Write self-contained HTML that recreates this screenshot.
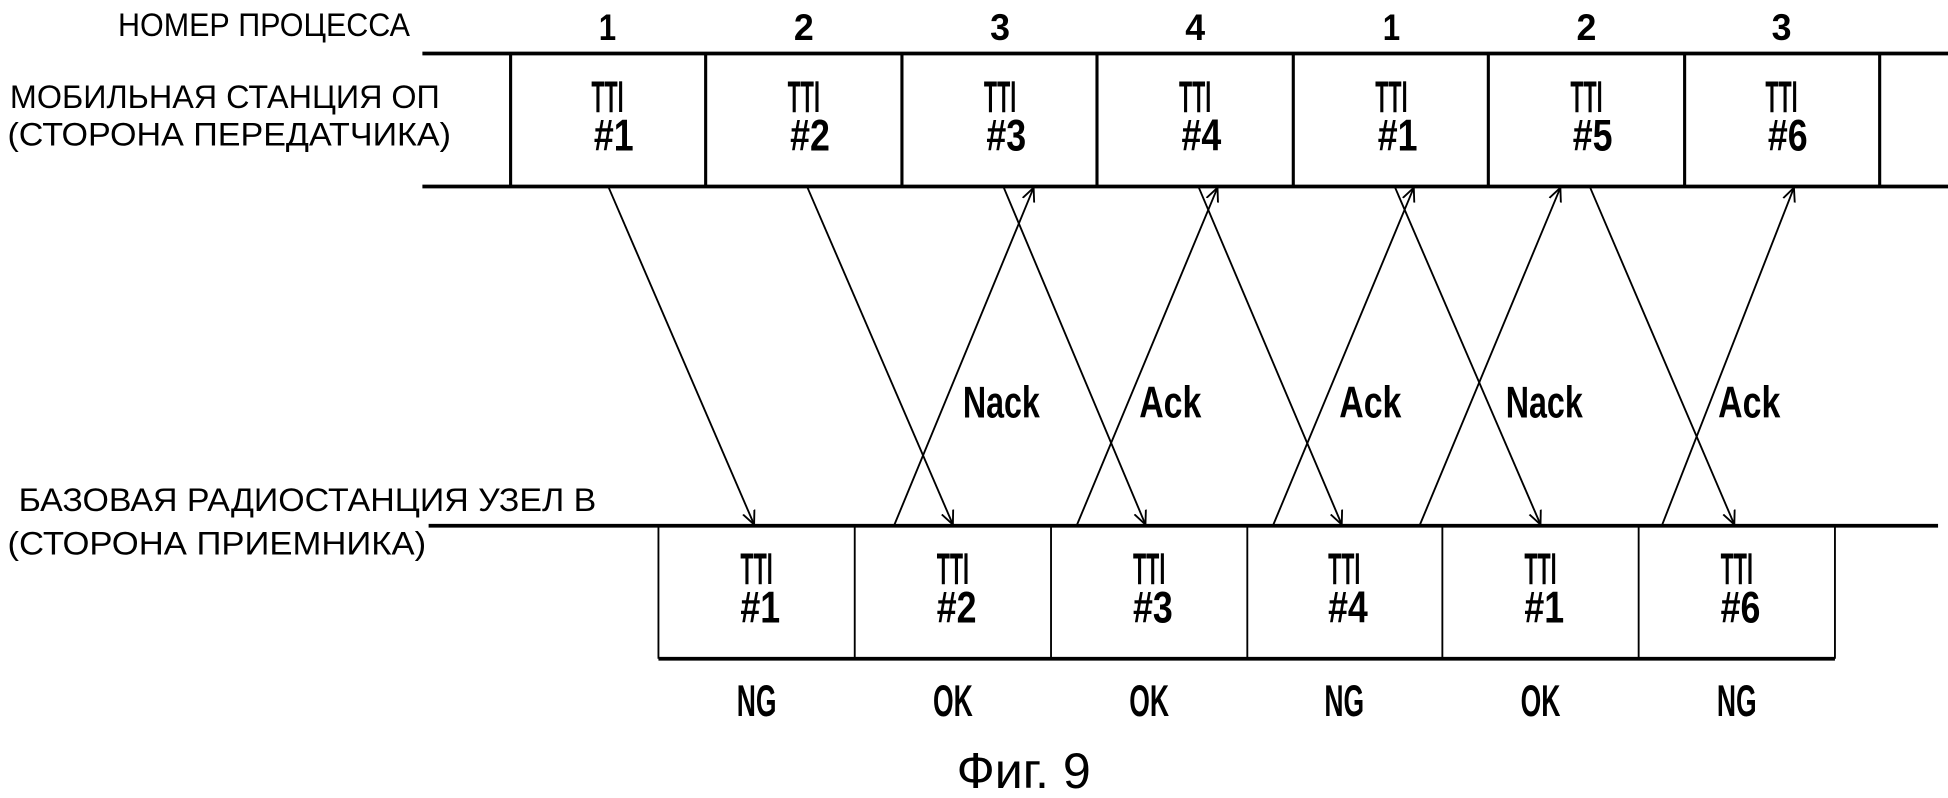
<!DOCTYPE html>
<html><head><meta charset="utf-8"><style>
html,body{margin:0;padding:0;background:#fff;}
svg{display:block;}
text{font-family:"Liberation Sans",sans-serif;fill:#000;}
.b{font-weight:bold;}
</style></head><body>
<svg width="1948" height="798" viewBox="0 0 1568 642" preserveAspectRatio="none" xmlns="http://www.w3.org/2000/svg">
<defs>
<marker id="ah" viewBox="0 0 12 12" refX="11" refY="6" markerWidth="12" markerHeight="12" markerUnits="userSpaceOnUse" orient="auto">
<path d="M0,1 L11,6 L0,11" fill="none" stroke="#000" stroke-width="1.5"/>
</marker>
</defs>
<g stroke="#000" fill="none">
<line x1="340" y1="43" x2="1568" y2="43" stroke-width="3"/>
<line x1="340" y1="150" x2="1568" y2="150" stroke-width="3"/>
<g stroke-width="2.5">
<line x1="411" y1="43" x2="411" y2="150"/><line x1="568" y1="43" x2="568" y2="150"/>
<line x1="726" y1="43" x2="726" y2="150"/><line x1="883" y1="43" x2="883" y2="150"/>
<line x1="1041" y1="43" x2="1041" y2="150"/><line x1="1198" y1="43" x2="1198" y2="150"/>
<line x1="1356" y1="43" x2="1356" y2="150"/><line x1="1513" y1="43" x2="1513" y2="150"/>
</g>
<line x1="345" y1="423" x2="1560" y2="423" stroke-width="3"/>
<line x1="530" y1="530" x2="1477" y2="530" stroke-width="3"/>
<g stroke-width="1.5">
<line x1="530" y1="423" x2="530" y2="530"/><line x1="688" y1="423" x2="688" y2="530"/>
<line x1="846" y1="423" x2="846" y2="530"/><line x1="1004" y1="423" x2="1004" y2="530"/>
<line x1="1161" y1="423" x2="1161" y2="530"/><line x1="1319" y1="423" x2="1319" y2="530"/>
<line x1="1477" y1="423" x2="1477" y2="530"/>
</g>
<g stroke-width="1.5" marker-end="url(#ah)">
<line x1="490" y1="151" x2="607" y2="422"/>
<line x1="650" y1="151" x2="767" y2="422"/>
<line x1="808" y1="151" x2="922" y2="422"/>
<line x1="965" y1="151" x2="1080" y2="422"/>
<line x1="1123" y1="151" x2="1240" y2="422"/>
<line x1="1280" y1="151" x2="1396" y2="422"/>
<line x1="720" y1="422" x2="832" y2="151"/>
<line x1="867" y1="422" x2="980" y2="151"/>
<line x1="1025" y1="422" x2="1138" y2="151"/>
<line x1="1143" y1="422" x2="1256" y2="151"/>
<line x1="1338" y1="422" x2="1444" y2="151"/>
</g>
</g>
<g font-size="26">
<text x="95" y="29" textLength="235" lengthAdjust="spacingAndGlyphs">НОМЕР ПРОЦЕССА</text>
<text x="8" y="87" textLength="346" lengthAdjust="spacingAndGlyphs">МОБИЛЬНАЯ СТАНЦИЯ ОП</text>
<text x="6" y="117" textLength="357" lengthAdjust="spacingAndGlyphs">(СТОРОНА ПЕРЕДАТЧИКА)</text>
<text x="15" y="411" textLength="465" lengthAdjust="spacingAndGlyphs">БАЗОВАЯ РАДИОСТАНЦИЯ УЗЕЛ В</text>
<text x="6" y="446" textLength="337" lengthAdjust="spacingAndGlyphs">(СТОРОНА ПРИЕМНИКА)</text>
</g>
<g class="b" font-size="30" text-anchor="middle">
<text x="489" y="32" textLength="14" lengthAdjust="spacingAndGlyphs">1</text><text x="647" y="32" textLength="16" lengthAdjust="spacingAndGlyphs">2</text><text x="805" y="32" textLength="16" lengthAdjust="spacingAndGlyphs">3</text><text x="962" y="32" textLength="16" lengthAdjust="spacingAndGlyphs">4</text>
<text x="1120" y="32" textLength="14" lengthAdjust="spacingAndGlyphs">1</text><text x="1277" y="32" textLength="16" lengthAdjust="spacingAndGlyphs">2</text><text x="1434" y="32" textLength="16" lengthAdjust="spacingAndGlyphs">3</text>
</g>
<g class="b" font-size="36">
<g text-anchor="middle">
<text x="489" y="90" textLength="26" lengthAdjust="spacingAndGlyphs">TTI</text><text x="494" y="121" textLength="32" lengthAdjust="spacingAndGlyphs">#1</text>
<text x="647" y="90" textLength="26" lengthAdjust="spacingAndGlyphs">TTI</text><text x="652" y="121" textLength="32" lengthAdjust="spacingAndGlyphs">#2</text>
<text x="805" y="90" textLength="26" lengthAdjust="spacingAndGlyphs">TTI</text><text x="810" y="121" textLength="32" lengthAdjust="spacingAndGlyphs">#3</text>
<text x="962" y="90" textLength="26" lengthAdjust="spacingAndGlyphs">TTI</text><text x="967" y="121" textLength="32" lengthAdjust="spacingAndGlyphs">#4</text>
<text x="1120" y="90" textLength="26" lengthAdjust="spacingAndGlyphs">TTI</text><text x="1125" y="121" textLength="32" lengthAdjust="spacingAndGlyphs">#1</text>
<text x="1277" y="90" textLength="26" lengthAdjust="spacingAndGlyphs">TTI</text><text x="1282" y="121" textLength="32" lengthAdjust="spacingAndGlyphs">#5</text>
<text x="1434" y="90" textLength="26" lengthAdjust="spacingAndGlyphs">TTI</text><text x="1439" y="121" textLength="32" lengthAdjust="spacingAndGlyphs">#6</text>

<text x="609" y="470" textLength="26" lengthAdjust="spacingAndGlyphs">TTI</text><text x="612" y="501" textLength="32" lengthAdjust="spacingAndGlyphs">#1</text>
<text x="767" y="470" textLength="26" lengthAdjust="spacingAndGlyphs">TTI</text><text x="770" y="501" textLength="32" lengthAdjust="spacingAndGlyphs">#2</text>
<text x="925" y="470" textLength="26" lengthAdjust="spacingAndGlyphs">TTI</text><text x="928" y="501" textLength="32" lengthAdjust="spacingAndGlyphs">#3</text>
<text x="1082" y="470" textLength="26" lengthAdjust="spacingAndGlyphs">TTI</text><text x="1085" y="501" textLength="32" lengthAdjust="spacingAndGlyphs">#4</text>
<text x="1240" y="470" textLength="26" lengthAdjust="spacingAndGlyphs">TTI</text><text x="1243" y="501" textLength="32" lengthAdjust="spacingAndGlyphs">#1</text>
<text x="1398" y="470" textLength="26" lengthAdjust="spacingAndGlyphs">TTI</text><text x="1401" y="501" textLength="32" lengthAdjust="spacingAndGlyphs">#6</text>

<text x="609" y="576" textLength="32" lengthAdjust="spacingAndGlyphs">NG</text>
<text x="767" y="576" textLength="32" lengthAdjust="spacingAndGlyphs">OK</text>
<text x="925" y="576" textLength="32" lengthAdjust="spacingAndGlyphs">OK</text>
<text x="1082" y="576" textLength="32" lengthAdjust="spacingAndGlyphs">NG</text>
<text x="1240" y="576" textLength="32" lengthAdjust="spacingAndGlyphs">OK</text>
<text x="1398" y="576" textLength="32" lengthAdjust="spacingAndGlyphs">NG</text>
</g>
<text x="775" y="336" textLength="62" lengthAdjust="spacingAndGlyphs">Nack</text>
<text x="917" y="336" textLength="50" lengthAdjust="spacingAndGlyphs">Ack</text>
<text x="1078" y="336" textLength="50" lengthAdjust="spacingAndGlyphs">Ack</text>
<text x="1212" y="336" textLength="62" lengthAdjust="spacingAndGlyphs">Nack</text>
<text x="1383" y="336" textLength="50" lengthAdjust="spacingAndGlyphs">Ack</text>
</g>
<text x="770" y="634" font-size="40" textLength="108" lengthAdjust="spacingAndGlyphs">Фиг. 9</text>
</svg>
</body></html>
